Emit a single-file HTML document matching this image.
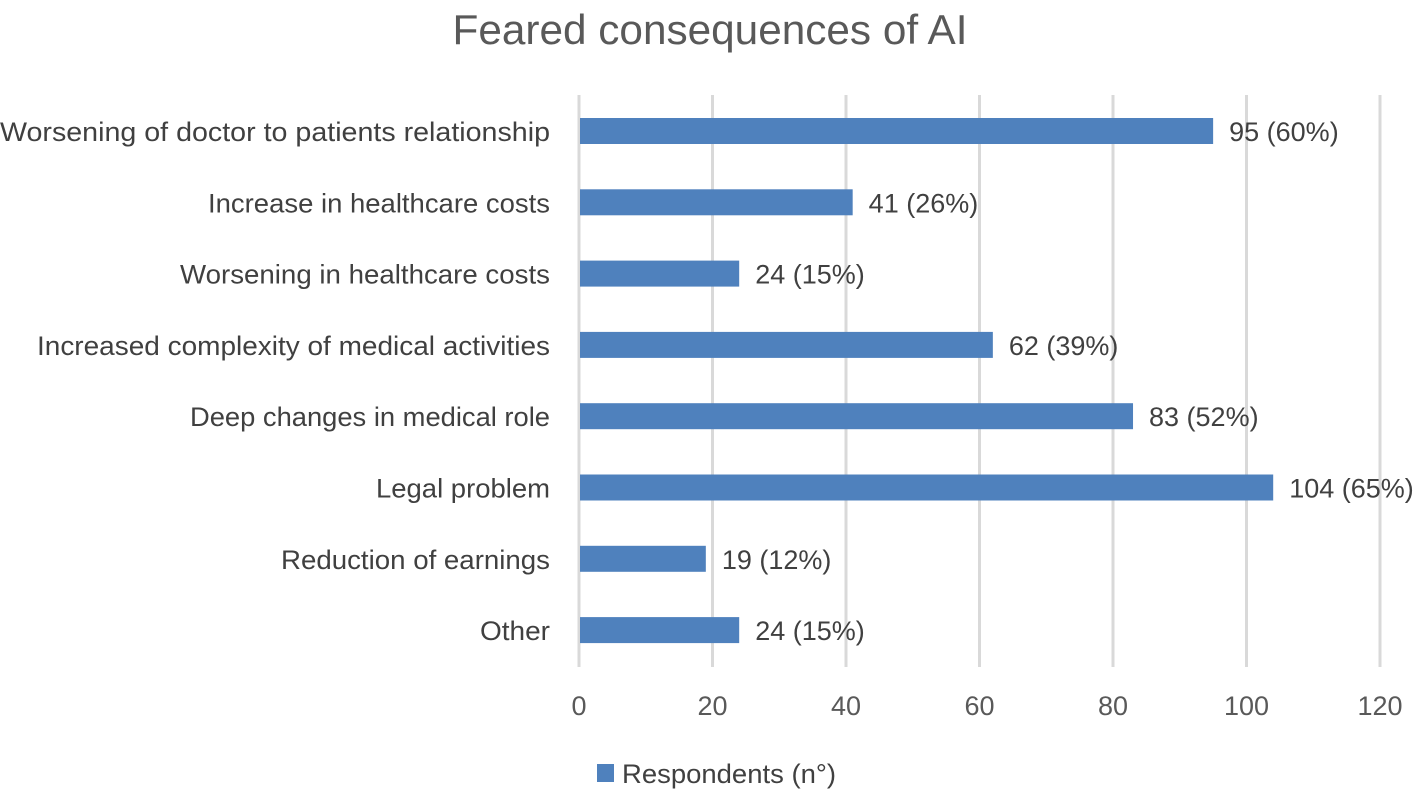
<!DOCTYPE html>
<html><head><meta charset="utf-8"><style>
html,body{margin:0;padding:0;background:#fff;}
svg{display:block;font-family:"Liberation Sans",sans-serif;}
</style></head><body>
<svg id="chart" width="1421" height="792">
<text x="710" y="44" font-size="42" fill="#595959" text-anchor="middle" textLength="515" lengthAdjust="spacingAndGlyphs">Feared consequences of AI</text>
<g id="grid"></g><g id="bars"></g><g id="labels"></g><g id="ticks"></g>
<rect x="597" y="764" width="17" height="18" fill="#4f81bd"/>
<text x="622" y="783" font-size="27" fill="#404040" textLength="214" lengthAdjust="spacingAndGlyphs">Respondents (n°)</text>
</svg>
<script>
const categories=["Worsening of doctor to patients relationship","Increase in healthcare costs","Worsening in healthcare costs","Increased complexity of medical activities","Deep changes in medical role","Legal problem","Reduction of earnings","Other"];
const values=[95,41,24,62,83,104,19,24];
const valueLabels=["95 (60%)","41 (26%)","24 (15%)","62 (39%)","83 (52%)","104 (65%)","19 (12%)","24 (15%)"];
const tickValues=[0,20,40,60,80,100,120];
const labelWidths=[550,342,370,513,360,174,269,70];
const NS="http://www.w3.org/2000/svg";
const x=v=>579+v*(801/120);
const y=i=>131+i*71.3;
function mk(t,a,p){const e=document.createElementNS(NS,t);for(const k in a)e.setAttribute(k,a[k]);document.getElementById(p).appendChild(e);return e;}
tickValues.forEach(t=>{
 const l=mk('line',{x1:x(t),x2:x(t),y1:95,y2:667,stroke:'#d9d9d9','stroke-width':3},'grid');
 
 
 const tx=mk('text',{x:x(t),y:715,'font-size':27,fill:'#595959','text-anchor':'middle'},'ticks');
 tx.textContent=t;
 
 
});
categories.forEach((c,i)=>{
 const b=mk('rect',{x:x(0)+1,y:y(i)-13,width:x(values[i])-x(0)-1,height:26,fill:'#4f81bd'},'bars');
 
 
 const lb=mk('text',{x:550,y:y(i)+10,'font-size':27,fill:'#404040','text-anchor':'end',textLength:labelWidths[i],lengthAdjust:'spacingAndGlyphs'},'labels');
 lb.textContent=c;
 
 
 const vl=mk('text',{x:x(values[i])+16,y:y(i)+10,'font-size':27,fill:'#404040'},'labels');
 vl.textContent=valueLabels[i];
 
 
});
</script>
</body></html>
